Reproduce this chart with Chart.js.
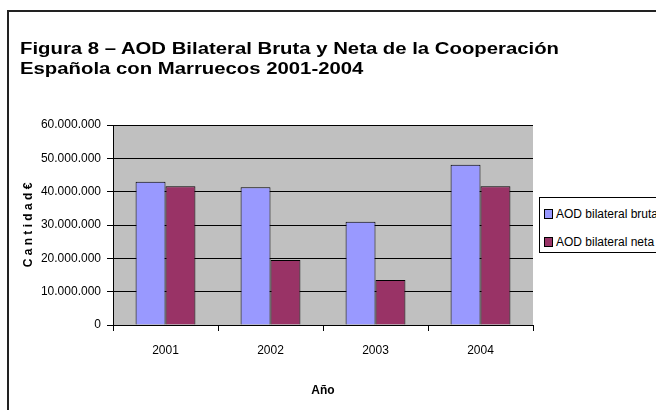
<!DOCTYPE html>
<html>
<head>
<meta charset="utf-8">
<script src="https://cdn.jsdelivr.net/npm/chart.js@4.4.1/dist/chart.umd.min.js"></script>
<style>
  html, body { margin: 0; padding: 0; background: #fff; overflow: hidden; }
  #wrap { position: relative; width: 656px; height: 410px; }
  #frame { position: absolute; left: 7px; top: 10px; width: 660px; height: 410px;
           border-left: 2px solid #222; border-top: 2px solid #222; box-sizing: border-box; }
  #title { position: absolute; left: 20px; top: 39px; font: bold 16px "Liberation Sans", Arial, sans-serif;
           line-height: 20px; color: #000; white-space: nowrap;
           transform: scaleX(1.27); transform-origin: 0 0; }
  #legend { position: absolute; left: 539px; top: 197px; width: 140px; height: 56px;
            border: 1px solid #000; background: #fff; box-sizing: border-box;
            font: 12px "Liberation Sans", Arial, sans-serif; color: #000; }
  .item { position: absolute; left: 4px; height: 14px; line-height: 14px; white-space: nowrap; }
  .sw { display: inline-block; width: 7px; height: 8px; border: 1px solid #000; margin-right: 3px; vertical-align: -1px; }
  canvas { position: absolute; left: 0; top: 0; }
</style>
</head>
<body>
<div id="wrap">
  <div id="frame"></div>
  <canvas id="aodChart" width="656" height="410"></canvas>
  <div id="title">Figura 8 – AOD Bilateral Bruta y Neta de la Cooperación<br>Española con Marruecos 2001-2004</div>
  <div id="legend"></div>
</div>
<script>
/**************************************************
 * DATA
 **************************************************/
const years = ["2001", "2002", "2003", "2004"];
const seriesNames = ["AOD bilateral bruta", "AOD bilateral neta"];
const brutaValues = [43000000, 41300000, 31000000, 48100000];
const netaValues  = [41600000, 19500000, 13500000, 41600000];
const yTicks = [0, 10000000, 20000000, 30000000, 40000000, 50000000, 60000000];

const colors = ["#9999FF", "#993366"];
const sans = '"Liberation Sans", Arial, sans-serif';

// gray plot background
const plotBg = {
  id: "plotBg",
  beforeDraw(chart) {
    const { ctx, chartArea: a } = chart;
    ctx.save();
    ctx.fillStyle = "#C0C0C0";
    ctx.fillRect(a.left, a.top, a.right - a.left, a.bottom - a.top);
    ctx.restore();
  }
};

// dots as thousands separator
function fmt(v) {
  return String(v).replace(/\B(?=(\d{3})+(?!\d))/g, ".");
}

/**************************************************
 * CHART
 **************************************************/
function drawChart() {
  const ctx = document.getElementById("aodChart").getContext("2d");

  new Chart(ctx, {
    type: "bar",
    data: {
      labels: years,
      datasets: [
        { label: seriesNames[0], data: brutaValues, backgroundColor: colors[0], borderColor: "#000", borderWidth: 1 },
        { label: seriesNames[1], data: netaValues, backgroundColor: colors[1], borderColor: "#000", borderWidth: 1 }
      ]
    },
    options: {
      responsive: false,
      animation: false,
      layout: { padding: { left: 10, right: 123, top: 125, bottom: 8 } },
      plugins: {
        legend: { display: false },
        tooltip: { enabled: false }
      },
      datasets: { bar: { categoryPercentage: 0.57, barPercentage: 1 } },
      scales: {
        x: {
          grid: { offset: true, drawOnChartArea: false, color: "#000", tickLength: 6 },
          border: { color: "#000", width: 1 },
          ticks: { color: "#000", font: { family: sans, size: 12 }, padding: 12 },
          title: { display: true, text: "Año", color: "#000", font: { family: sans, size: 12, weight: "bold" }, padding: { top: 14 } },
          afterFit(scale) { scale.height = 77; }
        },
        y: {
          min: 0,
          max: 60000000,
          afterBuildTicks(scale) { scale.ticks = yTicks.map(v => ({ value: v })); },
          grid: { color: "#000", tickLength: 6 },
          border: { color: "#000", width: 1 },
          ticks: { color: "#000", font: { family: sans, size: 12 }, padding: 6, callback: v => fmt(v) },
          title: { display: true, text: "C a n t i d a d €", color: "#000", font: { family: sans, size: 12, weight: "bold" }, padding: { top: 11, bottom: 0 } },
          afterFit(scale) { scale.width = 103; }
        }
      }
    },
    plugins: [plotBg]
  });

  // legend box
  const leg = document.getElementById("legend");
  seriesNames.forEach((name, i) => {
    const row = document.createElement("div");
    row.className = "item";
    row.style.top = (i === 0 ? 9 : 37) + "px";
    row.innerHTML = '<span class="sw" style="background:' + colors[i] + '"></span>' + name;
    leg.appendChild(row);
  });
}

drawChart();
</script>
</body>
</html>
